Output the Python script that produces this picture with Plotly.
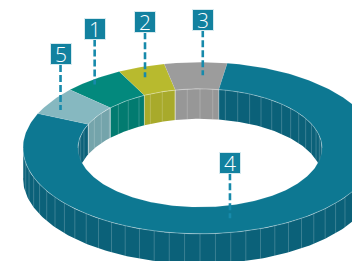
import numpy as np
import plotly.graph_objects as go

# ---- data ----
categories = ["1", "2", "3", "4", "5"]
values = [5.6, 4.3, 5.7, 79.1, 5.3]
top_colors = ["#03897d", "#b8ba2e", "#9c9c9c", "#0d7892", "#86b8c0"]
side_colors = ["#027b70", "#a8aa2b", "#979797", "#0b6179", "#74a4ab"]
label_color = "#12819f"

# ---- geometry (layout) ----
W, H = 352, 261
CX, CY = 200.0, 148.0
R_OUT, R_IN = 177.0, 122.0
TILT = 0.485
DEPTH = 30.0
START = 137.3  # degrees, slices run clockwise
LABEL_FRAC = [0.42, 0.42, 0.62, 0.56, 0.3]
LABEL_R = [168, 156, 150, 148, 160]
LEADER = 45

def pt(r, t_deg, dz=0.0):
    t = np.radians(t_deg)
    return CX + r * np.cos(t), CY - r * TILT * np.sin(t) + dz

def arc(r, a, b, dz=0.0, step=1.0):
    n = max(2, int(abs(b - a) / step) + 2)
    ts = np.linspace(a, b, n)
    xs, ys = pt(r, ts, dz)
    return list(xs), list(ys)

def visible(a, b, lo_base, hi_base):
    out = []
    for k in range(-2, 3):
        lo = max(a, lo_base + 360 * k)
        hi = min(b, hi_base + 360 * k)
        if lo < hi:
            out.append((lo, hi))
    return out

total = sum(values)
spans = []
cur = START
for v in values:
    sweep = 360.0 * v / total
    spans.append((cur - sweep, cur))
    cur -= sweep

fig = go.Figure()

def poly(xs, ys, fill, line_color="rgba(0,0,0,0)", lw=0):
    fig.add_trace(go.Scatter(x=xs + [xs[0]], y=ys + [ys[0]], mode="lines", fill="toself",
                             fillcolor=fill, line=dict(color=line_color, width=lw),
                             hoverinfo="skip", showlegend=False))

facet_x, facet_y = [], []

# inner walls (back half, sin>0)
for (a, b), sc in zip(spans, side_colors):
    for lo, hi in visible(a, b, 0, 180):
        x1, y1 = arc(R_IN, lo, hi)
        x2, y2 = arc(R_IN, hi, lo, DEPTH)
        poly(x1 + x2, y1 + y2, sc)
        for t in np.arange(np.ceil(lo / 6) * 6, hi, 6):
            x, y = pt(R_IN, t)
            facet_x += [x, x, None]
            facet_y += [y, y + DEPTH, None]
        for t in (lo, hi):
            x, y = pt(R_IN, t)
            facet_x += [x, x, None]
            facet_y += [y, y + DEPTH, None]

# outer walls (front half, sin<0)
for (a, b), sc in zip(spans, side_colors):
    for lo, hi in visible(a, b, 180, 360):
        x1, y1 = arc(R_OUT, lo, hi)
        x2, y2 = arc(R_OUT, hi, lo, DEPTH)
        poly(x1 + x2, y1 + y2, sc)
        for t in np.arange(np.ceil(lo / 5) * 5, hi, 5):
            x, y = pt(R_OUT, t)
            facet_x += [x, x, None]
            facet_y += [y, y + DEPTH, None]

fig.add_trace(go.Scatter(x=facet_x, y=facet_y, mode="lines",
                         line=dict(color="rgba(255,255,255,0.25)", width=0.8),
                         hoverinfo="skip", showlegend=False))

# top faces
for (a, b), tc in zip(spans, top_colors):
    x1, y1 = arc(R_OUT, a, b)
    x2, y2 = arc(R_IN, b, a)
    poly(x1 + x2, y1 + y2, tc, "rgba(255,255,255,0.15)", 0.6)

# edge highlights
ex, ey = arc(R_OUT, 180, 360)
ix, iy = arc(R_IN, 0, 180)
fig.add_trace(go.Scatter(x=ex + [None] + ix, y=ey + [None] + iy, mode="lines",
                         line=dict(color="rgba(255,255,255,0.4)", width=0.7),
                         hoverinfo="skip", showlegend=False))

# labels with dashed leaders
for i, ((a, b), cat) in enumerate(zip(spans, categories)):
    t = b - LABEL_FRAC[i] * (b - a)
    ax, ay = pt(LABEL_R[i], t)
    ax, ay = float(ax), float(ay)
    fig.add_trace(go.Scatter(x=[ax, ax], y=[ay - LEADER, ay], mode="lines",
                             line=dict(color="#178aab", width=2.6, dash="7px,3px"),
                             hoverinfo="skip", showlegend=False))
    fig.add_annotation(x=ax, y=ay - LEADER - 10.5, text=cat, showarrow=False,
                       xref="x", yref="y", width=20, height=20, borderpad=0,
                       bgcolor=label_color, bordercolor="#d6eaef", borderwidth=1,
                       font=dict(family="Open Sans", size=21, color="white", weight=300),
                       valign="middle")

fig.update_layout(width=W, height=H, margin=dict(l=0, r=0, t=0, b=0),
                  paper_bgcolor="white", plot_bgcolor="white",
                  xaxis=dict(range=[0, W], visible=False, fixedrange=True),
                  yaxis=dict(range=[H, 0], visible=False, fixedrange=True))
fig.write_html("out.html", config={"displayModeBar": False},
               post_script="document.body.style.margin='0';document.body.style.overflow='hidden';")
